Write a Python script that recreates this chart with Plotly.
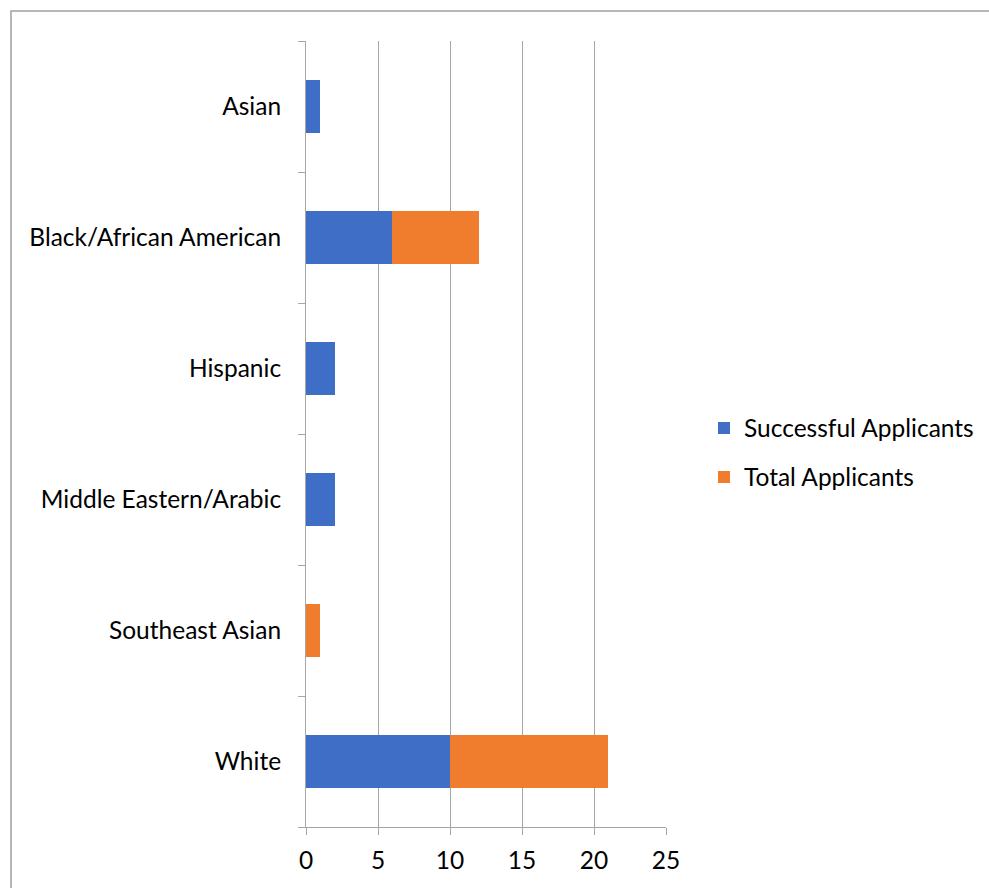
import plotly.graph_objects as go

categories = ["Asian", "Black/African American", "Hispanic", "Middle Eastern/Arabic", "Southeast Asian", "White"]
successful = [1, 6, 2, 2, 0, 10]
total = [0, 6, 0, 0, 1, 11]
x_ticks = [0, 5, 10, 15, 20, 25]

W, H = 989, 888
L, R, T, B = 306, 666, 41, 827
pw, ph = R - L, B - T

def px(x):
    return (x - L) / pw

def py(y):
    return (B - y) / ph

FONT = "Lato"
FS = 24.5
fig = go.Figure()
fig.add_trace(go.Bar(y=categories, x=successful, orientation="h", name="Successful Applicants",
                     marker=dict(color="#3E6EC5", line=dict(width=0)), legend="legend"))
fig.add_trace(go.Bar(y=categories, x=total, orientation="h", name="Total Applicants",
                     marker=dict(color="#F07D2E", line=dict(width=0)), legend="legend2"))

fig.update_layout(
    width=W, height=H, barmode="stack", bargap=0.6,
    margin=dict(l=L, r=W - R, t=T, b=H - B, autoexpand=False),
    paper_bgcolor="white", plot_bgcolor="white",
    font=dict(family=FONT, size=FS, color="#000000"),
    xaxis=dict(range=[0, 25], tickvals=x_ticks, showgrid=True, gridcolor="#a6a6a6", gridwidth=1,
               showline=True, linecolor="#a6a6a6", linewidth=1, ticks="outside", ticklen=7,
               tickcolor="#a6a6a6", zeroline=False, tickfont=dict(size=FS, family=FONT),
               ticklabelstandoff=5, fixedrange=True, automargin=False),
    yaxis=dict(categoryorder="array", categoryarray=categories[::-1], showline=True,
               linecolor="#a6a6a6", linewidth=1, ticks="outside", ticklen=7, tickcolor="#a6a6a6",
               tickson="boundaries", showgrid=False, tickfont=dict(size=FS, family=FONT),
               ticklabelstandoff=19, automargin=False),
    legend=dict(x=704 / W, y=1 - 428 / H, xref="container", yref="container", xanchor="left",
                yanchor="middle", font=dict(size=FS, family=FONT), bgcolor="rgba(0,0,0,0)"),
    legend2=dict(x=704 / W, y=1 - 477 / H, xref="container", yref="container", xanchor="left",
                 yanchor="middle", font=dict(size=FS, family=FONT), bgcolor="rgba(0,0,0,0)"),
    showlegend=True,
)

fig.add_shape(type="rect", xref="paper", yref="paper",
              x0=px(11), x1=px(1010), y0=py(905), y1=py(11),
              line=dict(color="#a0a0a0", width=1.5), fillcolor="rgba(0,0,0,0)", layer="below")

fig.write_html("out.html")
